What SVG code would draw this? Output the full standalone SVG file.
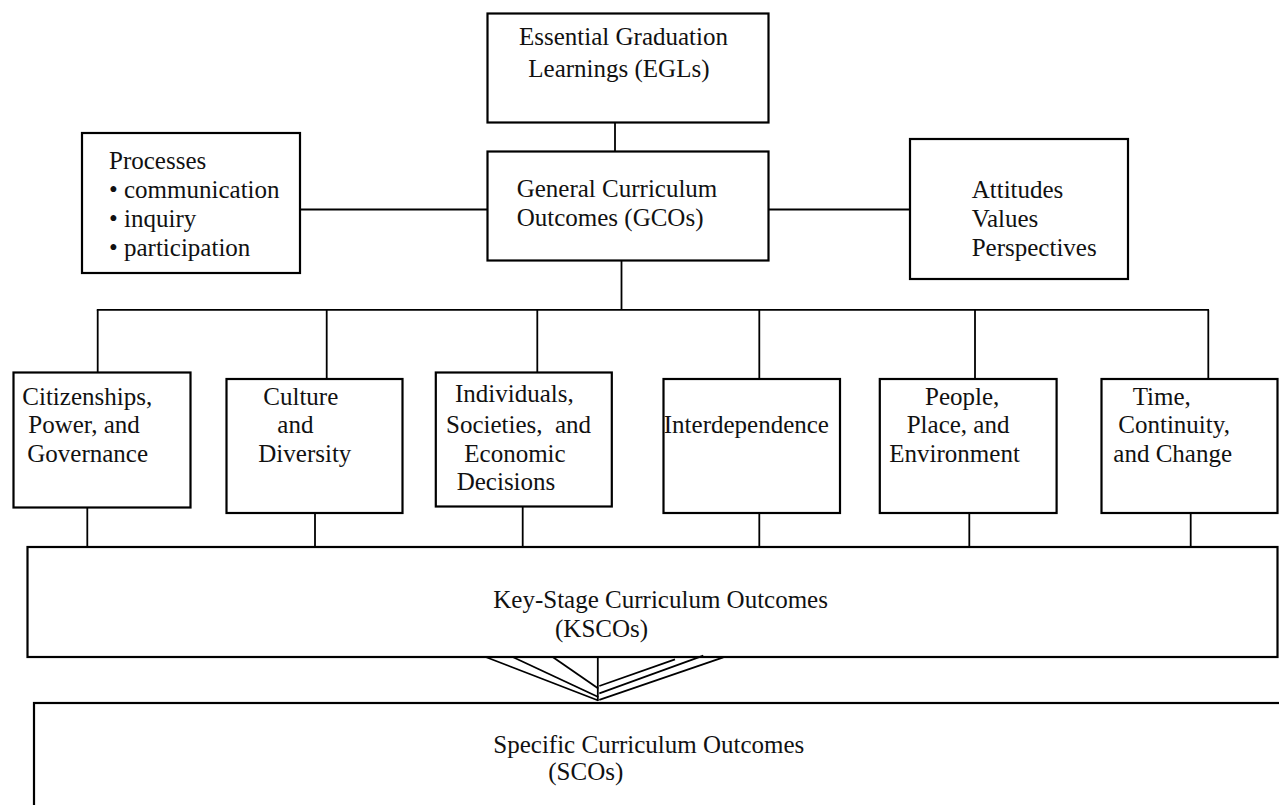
<svg xmlns="http://www.w3.org/2000/svg" width="1279" height="805" viewBox="0 0 1279 805">
<style>
.box{fill:#fff;stroke:#000;stroke-width:2.2}
.ln{stroke:#000;stroke-width:1.8;fill:none}
text{font-family:"Liberation Serif","Times New Roman",serif;font-size:25px;fill:#111}
</style>
<rect width="1279" height="805" fill="#fff"/>
<g id="connectors">
<line class="ln" x1="615" y1="123" x2="615" y2="151.5"/>
<line class="ln" x1="300" y1="209.5" x2="487.5" y2="209.5"/>
<line class="ln" x1="768.5" y1="209.5" x2="910" y2="209.5"/>
<line class="ln" x1="621.5" y1="260.5" x2="621.5" y2="309.8"/>
<line class="ln" x1="96.8" y1="309.8" x2="1209" y2="309.8"/>
<line class="ln" x1="97.7" y1="309.8" x2="97.7" y2="372.5"/>
<line class="ln" x1="326.7" y1="309.8" x2="326.7" y2="379"/>
<line class="ln" x1="537.3" y1="309.8" x2="537.3" y2="372.5"/>
<line class="ln" x1="759.3" y1="309.8" x2="759.3" y2="379"/>
<line class="ln" x1="975" y1="309.8" x2="975" y2="379"/>
<line class="ln" x1="1208.3" y1="309.8" x2="1208.3" y2="379"/>
<line class="ln" x1="87.3" y1="507.5" x2="87.3" y2="547"/>
<line class="ln" x1="315" y1="513" x2="315" y2="547"/>
<line class="ln" x1="522.7" y1="506.5" x2="522.7" y2="547"/>
<line class="ln" x1="759.3" y1="513" x2="759.3" y2="547"/>
<line class="ln" x1="969.3" y1="513" x2="969.3" y2="547"/>
<line class="ln" x1="1190.7" y1="513" x2="1190.7" y2="547"/>
</g>
<g id="kscos-top-box">
<rect class="box" x="27.5" y="547" width="1250" height="110"/>
</g>
<g id="fan">
<line class="ln" x1="485.7" y1="657" x2="598.3" y2="700.5"/>
<line class="ln" x1="512.7" y1="657" x2="598.3" y2="697"/>
<line class="ln" x1="552.7" y1="657" x2="598.3" y2="688.5"/>
<line class="ln" x1="597.8" y1="657" x2="597.8" y2="701"/>
<line class="ln" x1="675" y1="659.3" x2="599.3" y2="686"/>
<line class="ln" x1="703.3" y1="655.7" x2="599.3" y2="693.3"/>
<line class="ln" x1="723.3" y1="657.3" x2="599.3" y2="699.8"/>
</g>
<g id="egl">
<rect class="box" x="487.5" y="13.5" width="281" height="109"/>
<text x="519" y="45">Essential Graduation</text>
<text x="528.3" y="76.7">Learnings (EGLs)</text>
</g>
<g id="gco">
<rect class="box" x="487.5" y="151.5" width="281" height="109"/>
<text x="516.7" y="196.7">General Curriculum</text>
<text x="516.7" y="226">Outcomes (GCOs)</text>
</g>
<g id="processes">
<rect class="box" x="82" y="133" width="218" height="140"/>
<text x="109" y="169.3">Processes</text>
<text x="109" y="198.3">• communication</text>
<text x="109" y="226.7">• inquiry</text>
<text x="109" y="256">• participation</text>
</g>
<g id="attitudes">
<rect class="box" x="910" y="139" width="218" height="140"/>
<text x="971.7" y="198.3">Attitudes</text>
<text x="971.7" y="226.7">Values</text>
<text x="971.7" y="256">Perspectives</text>
</g>
<g id="citizenship">
<rect class="box" x="13.5" y="372.5" width="177" height="135"/>
<text x="22.3" y="405">Citizenships,</text>
<text x="28.3" y="433.3">Power, and</text>
<text x="27.3" y="462.3">Governance</text>
</g>
<g id="culture">
<rect class="box" x="226.5" y="379" width="176" height="134"/>
<text x="263.3" y="405">Culture</text>
<text x="277.3" y="433.3">and</text>
<text x="258.3" y="462.3">Diversity</text>
</g>
<g id="individuals">
<rect class="box" x="435.8" y="372.5" width="176" height="134"/>
<text x="455" y="401.7">Individuals,</text>
<text x="446" y="433.3" xml:space="preserve">Societies,  and</text>
<text x="464.3" y="461.7">Economic</text>
<text x="456.7" y="490">Decisions</text>
</g>
<g id="interdependence">
<rect class="box" x="663.5" y="379" width="176.5" height="134"/>
<text x="663.8" y="433.3">Interdependence</text>
</g>
<g id="people">
<rect class="box" x="879.8" y="379" width="176.8" height="134"/>
<text x="925" y="405">People,</text>
<text x="906.7" y="433.3">Place, and</text>
<text x="889.3" y="462">Environment</text>
</g>
<g id="time">
<rect class="box" x="1101.5" y="379" width="176" height="134"/>
<text x="1132.7" y="405">Time,</text>
<text x="1118.3" y="433.3">Continuity,</text>
<text x="1113.3" y="462">and Change</text>
</g>
<g id="ksco">
<text x="493.3" y="608.3">Key-Stage Curriculum Outcomes</text>
<text x="555" y="636.7">(KSCOs)</text>
</g>
<g id="sco">
<rect class="box" x="34" y="703" width="1260" height="130"/>
<text x="493.3" y="753.3">Specific Curriculum Outcomes</text>
<text x="548.3" y="780">(SCOs)</text>
</g>
</svg>
